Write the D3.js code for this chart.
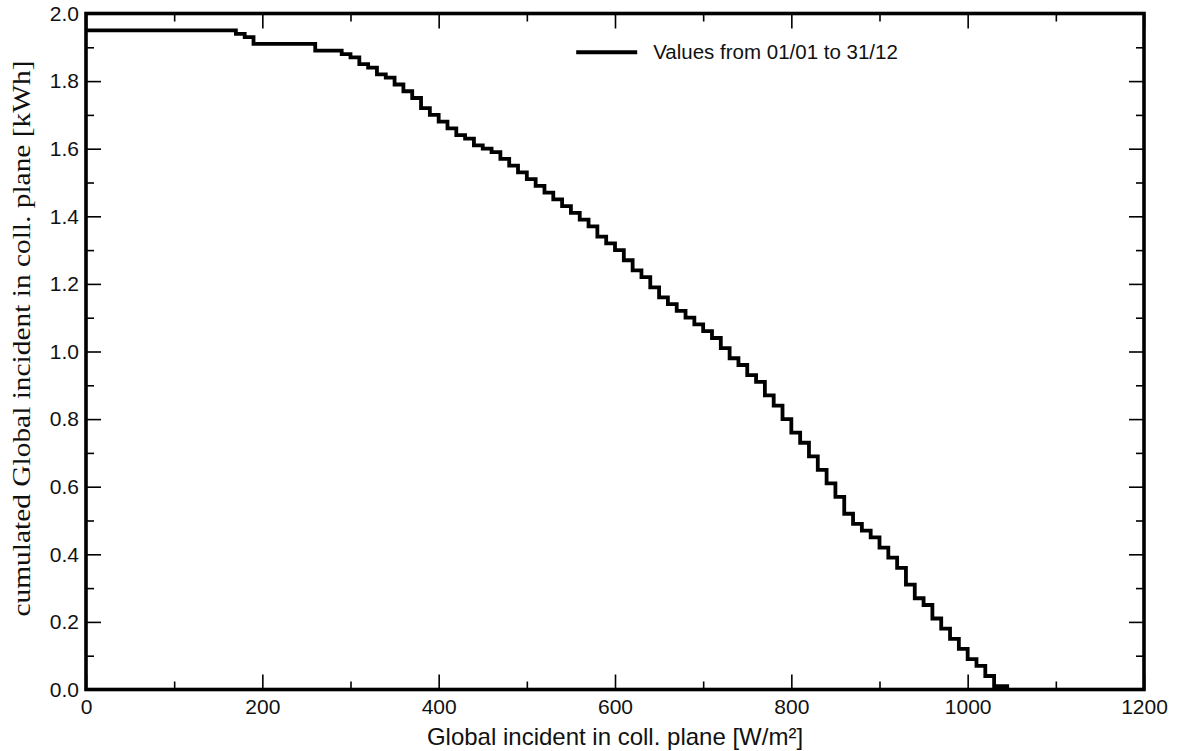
<!DOCTYPE html>
<html>
<head>
<meta charset="utf-8">
<script src="https://cdn.jsdelivr.net/npm/d3@7"></script>
<style>
    body { margin: 0; background: #fff; }
    svg { display: block; }
</style>
</head>
<body>
<svg id="chart"></svg>
<script>
// irradiance bins [W/m²] and the cumulated energy above each one [kWh]
const irradiance = [
    0, 10, 20, 30, 40, 50, 60, 70, 80, 90,
    100, 110, 120, 130, 140, 150, 160, 170, 180, 190,
    200, 210, 220, 230, 240, 250, 260, 270, 280, 290,
    300, 310, 320, 330, 340, 350, 360, 370, 380, 390,
    400, 410, 420, 430, 440, 450, 460, 470, 480, 490,
    500, 510, 520, 530, 540, 550, 560, 570, 580, 590,
    600, 610, 620, 630, 640, 650, 660, 670, 680, 690,
    700, 710, 720, 730, 740, 750, 760, 770, 780, 790,
    800, 810, 820, 830, 840, 850, 860, 870, 880, 890,
    900, 910, 920, 930, 940, 950, 960, 970, 980, 990,
    1000, 1010, 1020, 1030, 1040, 1047
];
const cumulated = [
    1.95, 1.95, 1.95, 1.95, 1.95, 1.95, 1.95, 1.95, 1.95, 1.95,
    1.95, 1.95, 1.95, 1.95, 1.95, 1.95, 1.95, 1.94, 1.93, 1.91,
    1.91, 1.91, 1.91, 1.91, 1.91, 1.91, 1.89, 1.89, 1.89, 1.88,
    1.87, 1.85, 1.84, 1.82, 1.81, 1.79, 1.77, 1.75, 1.72, 1.70,
    1.68, 1.66, 1.64, 1.63, 1.61, 1.60, 1.59, 1.57, 1.55, 1.53,
    1.51, 1.49, 1.47, 1.45, 1.43, 1.41, 1.39, 1.37, 1.34, 1.32,
    1.30, 1.27, 1.24, 1.22, 1.19, 1.16, 1.14, 1.12, 1.10, 1.08,
    1.06, 1.04, 1.01, 0.98, 0.96, 0.93, 0.91, 0.87, 0.84, 0.80,
    0.76, 0.73, 0.69, 0.65, 0.61, 0.57, 0.52, 0.49, 0.47, 0.45,
    0.42, 0.39, 0.36, 0.31, 0.27, 0.25, 0.21, 0.18, 0.15, 0.12,
    0.09, 0.07, 0.04, 0.01, 0.01, 0.01
];

const xdomain = [0, 1200];
const ydomain = [0, 2.0];
const xmajor = [0, 200, 400, 600, 800, 1000, 1200];
const xminor = [100, 300, 500, 700, 900, 1100];
const ymajor = [0.0, 0.2, 0.4, 0.6, 0.8, 1.0, 1.2, 1.4, 1.6, 1.8, 2.0];
const yminor = [0.1, 0.3, 0.5, 0.7, 0.9, 1.1, 1.3, 1.5, 1.7, 1.9];
const legendLabel = 'Values from 01/01 to 31/12';
const xlabel = 'Global incident in coll. plane [W/m²]';
const ylabel = 'cumulated Global incident in coll. plane [kWh]';

class StepChart {

    constructor( config, data ) {
        this.config = {
            parent: config.parent,
            width: config.width || 256,
            height: config.height || 256,
            margin: config.margin || {top:10, right:10, bottom:10, left:10}
        }
        this.data = data;
        this.init();
    }

    init() {
        let self = this;

        self.svg = d3.select( self.config.parent )
            .attr('width', self.config.width)
            .attr('height', self.config.height);

        self.chart = self.svg.append('g')
            .attr('transform', `translate(${self.config.margin.left}, ${self.config.margin.top})`);

        self.inner_width = self.config.width - self.config.margin.left - self.config.margin.right;
        self.inner_height = self.config.height - self.config.margin.top - self.config.margin.bottom;

        self.xscale = d3.scaleLinear()
            .domain( xdomain )
            .range( [0, self.inner_width] );

        self.yscale = d3.scaleLinear()
            .domain( ydomain )
            .range( [self.inner_height, 0] );
    }

    drawAxes() {
        let self = this;
        const major = 15, minor = 8;
        const font = 'Liberation Sans, Arial, sans-serif';

        // ticks all point into the plot
        const axes = [
            { f: d3.axisBottom, s: self.xscale, t: `translate(0, ${self.inner_height})`, lab: true },
            { f: d3.axisTop, s: self.xscale, t: 'translate(0, 0)', lab: false },
            { f: d3.axisLeft, s: self.yscale, t: 'translate(0, 0)', lab: true },
            { f: d3.axisRight, s: self.yscale, t: `translate(${self.inner_width}, 0)`, lab: false }
        ];

        axes.forEach( a => {
            const isx = a.s === self.xscale;
            const g = self.chart.append('g').attr('transform', a.t);
            g.call( a.f(a.s).tickValues(isx ? xminor : yminor).tickSize(-minor).tickFormat('') );
            g.append('g').call( a.f(a.s).tickValues(isx ? xmajor : ymajor).tickSize(-major)
                .tickPadding(isx ? 10 : 7)
                .tickFormat(a.lab ? (isx ? d3.format('d') : d3.format('.1f')) : '') );
            g.selectAll('.domain').remove();
            g.selectAll('.tick line').attr('stroke', '#000').attr('stroke-width', 1.6);
            g.selectAll('.tick text')
                .attr('fill', '#111')
                .style('font-family', font)
                .style('font-size', '21px');
        });

        self.chart.append('rect')
            .attr('width', self.inner_width)
            .attr('height', self.inner_height)
            .attr('fill', 'none')
            .attr('stroke', '#000')
            .attr('stroke-width', 3.6);

        self.svg.append('text')
            .attr('x', self.config.margin.left + self.xscale(600))
            .attr('y', 745)
            .attr('text-anchor', 'middle')
            .style('font-family', font)
            .style('font-size', '24px')
            .attr('fill', '#111')
            .text( xlabel );

        self.svg.append('text')
            .attr('transform', `translate(30, 338.5) rotate(-90)`)
            .attr('text-anchor', 'middle')
            .attr('textLength', 556)
            .attr('lengthAdjust', 'spacingAndGlyphs')
            .style('font-family', 'Liberation Serif, Times New Roman, serif')
            .style('font-size', '26px')
            .attr('fill', '#111')
            .text( ylabel );
    }

    render() {
        let self = this;

        self.drawAxes();

        const line = d3.line()
            .x(d => self.xscale(d.x))
            .y(d => self.yscale(d.y))
            .curve(d3.curveStepAfter);

        self.chart.append('path')
            .datum( self.data )
            .attr('d', line)
            .attr('fill', 'none')
            .attr('stroke', '#000')
            .attr('stroke-width', 3.8)
            .attr('stroke-linejoin', 'miter');

        // legend
        const lx = self.xscale(556), ly = self.yscale(1.885);
        self.chart.append('line')
            .attr('x1', lx).attr('x2', lx + 61)
            .attr('y1', ly).attr('y2', ly)
            .attr('stroke', '#000')
            .attr('stroke-width', 4);
        self.chart.append('text')
            .attr('x', lx + 77)
            .attr('y', ly + 7)
            .style('font-family', 'Liberation Sans, Arial, sans-serif')
            .style('font-size', '20.5px')
            .attr('fill', '#111')
            .text( legendLabel );
    }
}

const data = irradiance.map( (x, i) => ({ x: x, y: cumulated[i] }) );

const chart = new StepChart({
    parent: '#chart',
    width: 1178,
    height: 751,
    margin: {top: 13.5, right: 34, bottom: 61.5, left: 86}
}, data);
chart.render();
</script>
</body>
</html>
